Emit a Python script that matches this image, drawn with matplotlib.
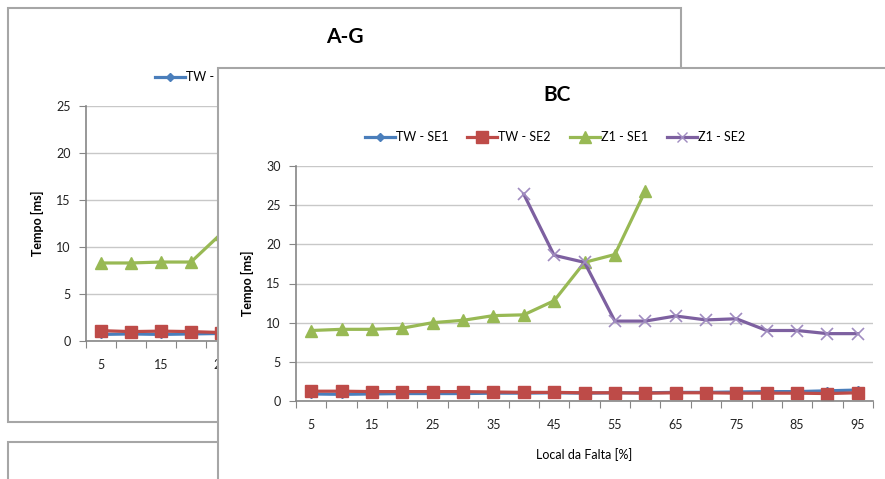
import numpy as np
import matplotlib.pyplot as plt
from matplotlib.patches import Rectangle
from matplotlib.lines import Line2D

plt.rcParams['font.family'] = ['Lato', 'DejaVu Sans']

# fault location categories [%]
local = [5, 10, 15, 20, 25, 30, 35, 40, 45, 50, 55, 60, 65, 70, 75, 80, 85, 90, 95]

# chart "BC" (front)
bc_tw_se1 = [0.9, 0.85, 0.9, 0.95, 0.95, 0.95, 1.0, 1.0, 1.05, 1.0, 1.05,
             1.05, 1.1, 1.1, 1.15, 1.2, 1.2, 1.3, 1.4]
bc_tw_se2 = [1.25, 1.25, 1.2, 1.2, 1.2, 1.2, 1.15, 1.1, 1.1, 1.05, 1.05,
             1.0, 1.05, 1.05, 1.0, 1.0, 1.0, 0.95, 1.05]
bc_z1_se1 = [9.0, 9.15, 9.15, 9.3, 10.0, 10.3, 10.9, 11.0, 12.8, 17.7, 18.7, 26.8]
bc_z1_se2_x = [40, 45, 50, 55, 60, 65, 70, 75, 80, 85, 90, 95]
bc_z1_se2 = [26.4, 18.6, 17.7, 10.2, 10.2, 10.85, 10.35, 10.5, 9.0, 9.0, 8.6, 8.6]

# chart "A-G" (behind, only the visible part)
ag_x = [5, 10, 15, 20, 25]
ag_tw_se1 = [0.7, 0.75, 0.7, 0.75, 0.8]
ag_tw_se2 = [1.1, 1.0, 1.05, 1.0, 0.9]
ag_z1_se1 = [8.3, 8.3, 8.4, 8.4, 11.4]

names = ['TW - SE1', 'TW - SE2', 'Z1 - SE1', 'Z1 - SE2']
cols = ['#4A7EBB', '#BE4B48', '#98B954', '#7D60A0']

W, H = 885, 479
fig = plt.figure(figsize=(W / 100, H / 100), dpi=100)

def fx(px):
    return px / W

def fy(py):
    return 1 - py / H

def box(x0, y0, x1, y1, z):
    r = Rectangle((fx(x0), fy(y1)), fx(x1 - x0), (y1 - y0) / H,
                  transform=fig.transFigure, facecolor='white',
                  edgecolor='#A6A6A6', lw=1.5, zorder=z)
    fig.add_artist(r)

def style(ax, ymax, xlabs):
    ax.set_xlim(2.5, 97.5)
    ax.set_ylim(0, ymax)
    ax.set_yticks(np.arange(0, ymax + 1, 5))
    ax.set_xticks(np.arange(2.5, 100, 5))
    ax.set_xticks(xlabs, minor=True)
    ax.set_xticklabels([])
    ax.set_xticklabels([str(v) for v in xlabs], minor=True)
    ax.tick_params(axis='x', which='major', length=5, color='#868686', direction='out')
    ax.tick_params(axis='x', which='minor', length=0, pad=13, labelsize=9, labelcolor='#222222')
    ax.tick_params(axis='y', length=5, color='#868686', pad=6, labelsize=9, labelcolor='#222222')
    for s in ['top', 'right']:
        ax.spines[s].set_visible(False)
    for s in ['left', 'bottom']:
        ax.spines[s].set_color('#868686')
        ax.spines[s].set_linewidth(1.2)
    ax.grid(axis='y', color='#C8C8C8', lw=1)
    ax.set_axisbelow(True)
    ax.set_facecolor('none')

# ---- back chart A-G
box(8, 8, 681, 422, 0)
box(8, 442, 700, 520, 0)
fig.text(fx(345), fy(37), 'A-G', ha='center', va='center', fontsize=15,
         fontweight='bold', zorder=1)
ax1 = fig.add_axes([fx(86), fy(341), fx(570), 235 / H], zorder=1)
style(ax1, 25, [5, 15, 25])
ax1.plot(ag_x, ag_tw_se1, color=cols[0], lw=2.3, marker='D', ms=4.5, clip_on=False)
ax1.plot(ag_x, ag_tw_se2, color=cols[1], lw=2.3, marker='s', ms=8, clip_on=False)
ax1.plot(ag_x, ag_z1_se1, color=cols[2], lw=2.3, marker='^', ms=8, clip_on=False)
ax1.set_ylabel('Tempo [ms]', fontsize=9, fontweight='bold', labelpad=9)
hand = [Line2D([], [], color=cols[0], lw=2.3, marker='D', ms=4.5),
        Line2D([], [], color=cols[1], lw=2.3, marker='s', ms=8),
        Line2D([], [], color=cols[2], lw=2.3, marker='^', ms=8),
        Line2D([], [], color=cols[3], lw=2.3, marker='x', ms=7, mec='#A08CC0')]
ax1.legend(hand, names, loc='center', bbox_to_anchor=(fx(345), fy(77)),
           bbox_transform=fig.transFigure, ncol=4, frameon=False, fontsize=9,
           handlelength=2.4, handletextpad=0.1, columnspacing=1.5)

# ---- front chart BC
box(218, 68, 900, 500, 2)
fig.text(fx(557), fy(95), 'BC', ha='center', va='center', fontsize=15,
         fontweight='bold', zorder=3)
ax2 = fig.add_axes([fx(296), fy(401), fx(577), 235 / H], zorder=3)
style(ax2, 30, list(range(5, 100, 10)))
ax2.plot(local, bc_tw_se1, color=cols[0], lw=2.3, marker='D', ms=4.5, clip_on=False)
ax2.plot(local, bc_tw_se2, color=cols[1], lw=2.3, marker='s', ms=8, clip_on=False)
ax2.plot(local[:len(bc_z1_se1)], bc_z1_se1, color=cols[2], lw=2.3, marker='^', ms=8, clip_on=False)
ax2.plot(bc_z1_se2_x, bc_z1_se2, color=cols[3], lw=2.3, marker='x', ms=8,
         mec='#A08CC0', mew=1.2, clip_on=False)
ax2.set_ylabel('Tempo [ms]', fontsize=9, fontweight='bold', labelpad=9)
ax2.set_xlabel('Local da Falta [%]', fontsize=9, labelpad=12)
ax2.legend(hand, names, loc='center', bbox_to_anchor=(fx(555), fy(137)),
           bbox_transform=fig.transFigure, ncol=4, frameon=False, fontsize=9,
           handlelength=2.4, handletextpad=0.1, columnspacing=1.5)

fig.savefig('out.png', dpi=100)
